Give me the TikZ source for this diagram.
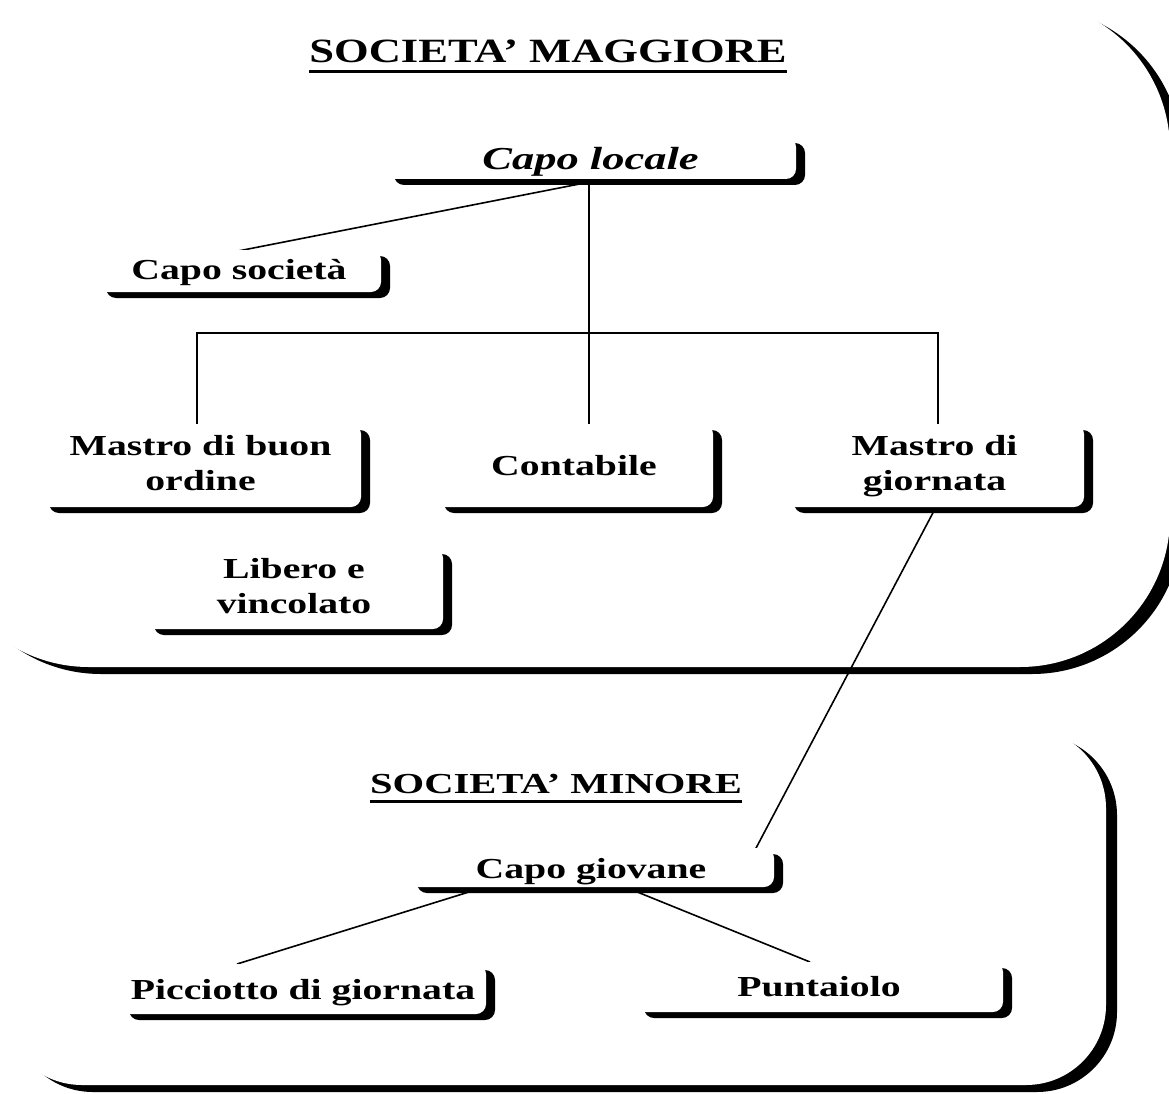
\documentclass[tikz,border=0pt]{standalone}
\usepackage{fontspec}
\usepackage{graphicx}
\setmainfont{Liberation Serif}
\usetikzlibrary{shadows}
\newcommand{\stx}[1]{\scalebox{1.37}[1]{#1}}
\newcommand{\sty}[1]{\scalebox{1.31}[1]{#1}}
\newcommand{\lowr}[2]{\raisebox{-#1}[\height][\depth]{#2}}
\newcommand{\twol}[2]{\stx{\begin{tabular}{@{}c@{}}#1\\#2\end{tabular}}}
\tikzset{
  sbox/.style={rectangle, rounded corners=10pt, fill=white, draw=none, inner sep=0pt,
    drop shadow={shadow xshift=9pt, shadow yshift=-6pt, opacity=1, fill=black},
    font=\fontsize{29pt}{35pt}\selectfont\bfseries},
  bigbox/.style={rectangle, fill=white, draw=none, inner sep=0pt},
  conn/.style={line width=1.6pt},
  ttl/.style={inner sep=0pt, anchor=base, font=\fontsize{29pt}{35pt}\selectfont\bfseries},
  uline/.style={line width=3pt}
}
\begin{document}
\begin{tikzpicture}[x=1pt,y=-1pt]
\useasboundingbox (0,0) rectangle (1169,1094);
% big frames
\node[bigbox, rounded corners=150pt, minimum width=1231pt, minimum height=667pt,
  drop shadow={shadow xshift=12pt, shadow yshift=-7pt, opacity=1, fill=black}] (maggiore) at (554.5,333.5) {};
\node[bigbox, rounded corners=80pt, minimum width=1104pt, minimum height=357pt,
  drop shadow={shadow xshift=11pt, shadow yshift=-7pt, opacity=1, fill=black}] (minore) at (554,906.5) {};
% titles
\node[ttl, font=\fontsize{34pt}{38pt}\selectfont\bfseries] (t1) at (548,63) {\sty{SOCIETA’ MAGGIORE}};
\draw[uline] ([yshift=-9pt]t1.base west) -- ([yshift=-9pt]t1.base east);
\node[ttl] (t2) at (556,793) {\scalebox{1.4}[1]{SOCIETA’ MINORE}};
\draw[uline] ([yshift=-8pt]t2.base west) -- ([yshift=-8pt]t2.base east);
% coordinates for connectors
\coordinate (clb) at (589,179);
\coordinate (cls) at (605,179);
% connectors
\draw[conn] (clb) -- (589,424);
\draw[conn] (cls) -- (233,252);
\draw[conn] (197,424) -- (197,333) -- (938,333) -- (938,424);
\draw[conn] (936,507) -- (755,850);
\draw[conn] (485,887) -- (237,964);
\draw[conn] (625,887) -- (810,962);
% boxes
\node[sbox, minimum width=411pt, minimum height=42pt, font=\fontsize{32pt}{36pt}\selectfont\bfseries\itshape] (capolocale) at (590.5,158) {\lowr{4pt}{\scalebox{1.39}[1]{Capo locale}}};
\node[sbox, minimum width=284pt, minimum height=42pt] (caposoc) at (239,271) {\lowr{2pt}{\stx{Capo società}}};
\node[sbox, minimum width=321pt, minimum height=83pt] (mbo) at (200.5,465.5) {\twol{Mastro di buon}{ordine}};
\node[sbox, minimum width=278pt, minimum height=83pt] (cont) at (574,465.5) {\stx{Contabile}};
\node[sbox, minimum width=299pt, minimum height=83pt] (mdg) at (934.5,465.5) {\twol{Mastro di}{giornata}};
\node[sbox, minimum width=298pt, minimum height=81pt] (lib) at (294,588.5) {\twol{Libero e}{vincolato}};
\node[sbox, minimum width=366pt, minimum height=39pt] (cg) at (591,867.5) {\lowr{4pt}{\stx{Capo giovane}}};
\node[sbox, minimum width=366pt, minimum height=50pt] (pic) at (303,989) {\lowr{4pt}{\stx{Picciotto di giornata}}};
\node[sbox, minimum width=368pt, minimum height=50pt] (punt) at (819,987) {\stx{Puntaiolo}};
\end{tikzpicture}
\end{document}
